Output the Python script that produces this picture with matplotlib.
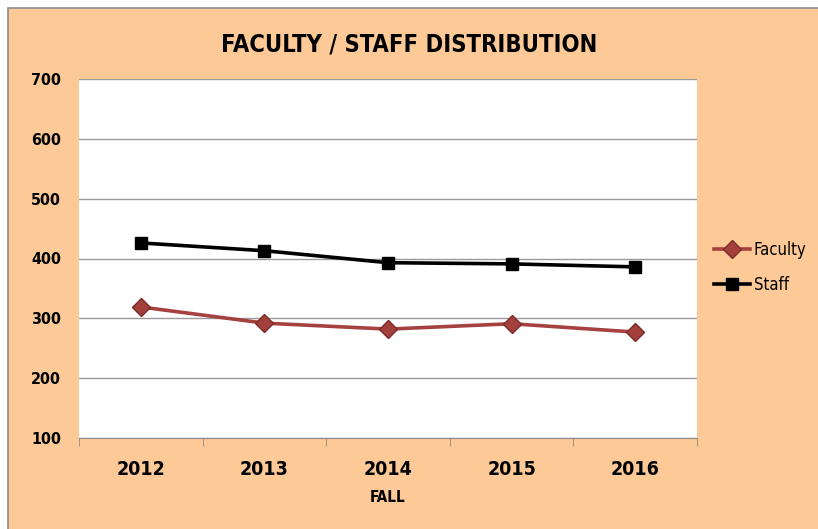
import matplotlib.pyplot as plt
from matplotlib.patches import Rectangle

years = ['2012', '2013', '2014', '2015', '2016']
faculty = [319, 292, 282, 291, 277]
staff = [426, 413, 393, 391, 386]
y_ticks = [100, 200, 300, 400, 500, 600, 700]

plt.rcParams['font.family'] = ['DejaVu Sans']
plt.rcParams['font.stretch'] = 'condensed'

fig = plt.figure(figsize=(8.18, 5.29), dpi=100)
fig.patch.set_facecolor('white')

# peach chart area with gray border
bg = Rectangle((8 / 818, -0.01), 1.0, 1 - 8 / 529 + 0.01, transform=fig.transFigure,
               facecolor='#FDCA97', edgecolor='#8C8C8C', linewidth=1.2, zorder=-10)
fig.patches.append(bg)

ax = fig.add_axes([79 / 818, 1 - 438 / 529, (697 - 79) / 818, (438 - 79) / 529])
ax.set_facecolor('white')

x = list(range(len(years)))
ax.plot(x, faculty, color='#A5413F', linewidth=2.6, marker='D', markersize=9,
        markerfacecolor='#A3403C', markeredgecolor='#7A2A28', label='Faculty', zorder=3)
ax.plot(x, staff, color='black', linewidth=2.6, marker='s', markersize=9,
        markerfacecolor='black', markeredgecolor='black', label='Staff', zorder=3)

ax.set_xlim(-0.5, 4.5)
ax.set_ylim(100, 700)
ax.set_yticks(y_ticks)
ax.set_yticklabels([str(v) for v in y_ticks], fontsize=11.5, fontweight='bold')
ax.set_xticks(x)
ax.set_xticklabels(years, fontsize=14, fontweight='bold')
ax.set_xticks([i - 0.5 for i in range(len(years) + 1)], minor=True)
ax.tick_params(axis='x', which='major', length=0, pad=16)
ax.tick_params(axis='x', which='minor', length=6, color='#8C8C8C', direction='out')
ax.tick_params(axis='y', length=0, pad=13)
ax.grid(axis='y', color='#9A9A9A', linewidth=1)
ax.set_axisbelow(True)
for s in ['top', 'right', 'left']:
    ax.spines[s].set_visible(False)
ax.spines['bottom'].set_color('#8C8C8C')

ax.set_xlabel('FALL', fontsize=11, fontweight='bold', labelpad=8)
fig.text(0.5, 1 - 44 / 529, 'FACULTY / STAFF DISTRIBUTION', ha='center', va='center',
         fontsize=17, fontweight='bold')

ax.legend(loc='center left', bbox_to_anchor=(1.0, 0.475), frameon=False, fontsize=12,
          handlelength=2.2, labelspacing=1.0, handletextpad=0.2, borderaxespad=0.6)

fig.savefig('out.png', dpi=100)
